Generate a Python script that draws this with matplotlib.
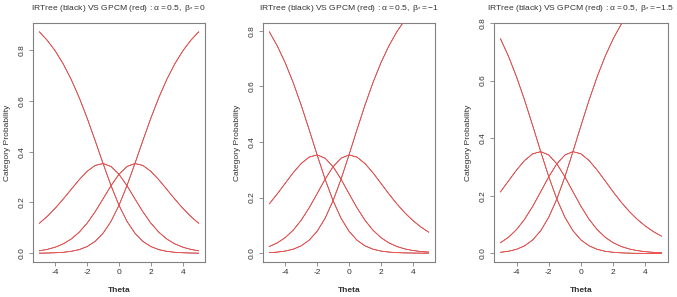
import matplotlib
matplotlib.use("Agg")
import matplotlib.pyplot as plt

plt.rcParams['font.family'] = ['Liberation Sans', 'DejaVu Sans']
plt.rcParams['mathtext.fontset'] = 'custom'
plt.rcParams['mathtext.rm'] = 'Liberation Sans'
plt.rcParams['mathtext.it'] = 'Liberation Sans'

theta = [-5.0, -4.5, -4.0, -3.5, -3.0, -2.5, -2.0, -1.5, -1.0, -0.5, 0.0,
         0.5, 1.0, 1.5, 2.0, 2.5, 3.0, 3.5, 4.0, 4.5, 5.0]

beta_labels = ["0", "-1", "-1.5"]

# Panel 1 (beta* = 0)
p1_cat0 = [0.8718, 0.8380, 0.7963, 0.7454, 0.6844, 0.6130, 0.5321, 0.4440, 0.3534, 0.2662, 0.1888,
           0.1258, 0.0789, 0.0468, 0.0265, 0.0144, 0.0076, 0.0039, 0.0020, 0.0010, 0.0005]
p1_cat1 = [0.1180, 0.1456, 0.1777, 0.2136, 0.2518, 0.2896, 0.3227, 0.3458, 0.3534, 0.3418, 0.3112,
           0.2662, 0.2143, 0.1634, 0.1187, 0.0830, 0.0562, 0.0371, 0.0241, 0.0154, 0.0097]
p1_cat2 = [0.0097, 0.0154, 0.0241, 0.0371, 0.0562, 0.0830, 0.1187, 0.1634, 0.2143, 0.2662, 0.3112,
           0.3418, 0.3534, 0.3458, 0.3227, 0.2896, 0.2518, 0.2136, 0.1777, 0.1456, 0.1180]
p1_cat3 = [0.0005, 0.0010, 0.0020, 0.0039, 0.0076, 0.0144, 0.0265, 0.0468, 0.0789, 0.1258, 0.1888,
           0.2662, 0.3534, 0.4440, 0.5321, 0.6130, 0.6844, 0.7454, 0.7963, 0.8380, 0.8718]

# Panel 2 (beta* = -1)
p2_cat0 = [0.7963, 0.7454, 0.6844, 0.6130, 0.5321, 0.4440, 0.3534, 0.2662, 0.1888, 0.1258, 0.0789,
           0.0468, 0.0265, 0.0144, 0.0076, 0.0039, 0.0020, 0.0010, 0.0005, 0.0002, 0.0001]
p2_cat1 = [0.1777, 0.2136, 0.2518, 0.2896, 0.3227, 0.3458, 0.3534, 0.3418, 0.3112, 0.2662, 0.2143,
           0.1634, 0.1187, 0.0830, 0.0562, 0.0371, 0.0241, 0.0154, 0.0097, 0.0061, 0.0038]
p2_cat2 = [0.0241, 0.0371, 0.0562, 0.0830, 0.1187, 0.1634, 0.2143, 0.2662, 0.3112, 0.3418, 0.3534,
           0.3458, 0.3227, 0.2896, 0.2518, 0.2136, 0.1777, 0.1456, 0.1180, 0.0948, 0.0756]
p2_cat3 = [0.0020, 0.0039, 0.0076, 0.0144, 0.0265, 0.0468, 0.0789, 0.1258, 0.1888, 0.2662, 0.3534,
           0.4440, 0.5321, 0.6130, 0.6844, 0.7454, 0.7963, 0.8380, 0.8718, 0.8990, 0.9205]

# Panel 3 (beta* = -1.5)
p3_cat0 = [0.7454, 0.6844, 0.6130, 0.5321, 0.4440, 0.3534, 0.2662, 0.1888, 0.1258, 0.0789, 0.0468,
           0.0265, 0.0144, 0.0076, 0.0039, 0.0020, 0.0010, 0.0005, 0.0002, 0.0001, 0.0001]
p3_cat1 = [0.2136, 0.2518, 0.2896, 0.3227, 0.3458, 0.3534, 0.3418, 0.3112, 0.2662, 0.2143, 0.1634,
           0.1187, 0.0830, 0.0562, 0.0371, 0.0241, 0.0154, 0.0097, 0.0061, 0.0038, 0.0023]
p3_cat2 = [0.0371, 0.0562, 0.0830, 0.1187, 0.1634, 0.2143, 0.2662, 0.3112, 0.3418, 0.3534, 0.3458,
           0.3227, 0.2896, 0.2518, 0.2136, 0.1777, 0.1456, 0.1180, 0.0948, 0.0756, 0.0599]
p3_cat3 = [0.0039, 0.0076, 0.0144, 0.0265, 0.0468, 0.0789, 0.1258, 0.1888, 0.2662, 0.3534, 0.4440,
           0.5321, 0.6130, 0.6844, 0.7454, 0.7963, 0.8380, 0.8718, 0.8990, 0.9205, 0.9377]

# IRTree curves (black) coincide with GPCM (red) at this resolution
gpcm = [[p1_cat0, p1_cat1, p1_cat2, p1_cat3],
        [p2_cat0, p2_cat1, p2_cat2, p2_cat3],
        [p3_cat0, p3_cat1, p3_cat2, p3_cat3]]
irtree = gpcm

xticks = [-4, -2, 0, 2, 4]
yticks = [0.0, 0.2, 0.4, 0.6, 0.8]

fig = plt.figure(figsize=(6.77, 2.97), dpi=100)
positions = [(33, 172), (263, 172), (494, 174)]
frame_col = '#808080'
text_col = '#333333'
for i, (left, w) in enumerate(positions):
    ax = fig.add_axes([left / 677, 35 / 297, w / 677, 239 / 297])
    for c in range(4):
        ax.plot(theta, irtree[i][c], color='#5a1010', lw=0.45, zorder=2)
        ax.plot(theta, gpcm[i][c], color='#ff5050', lw=0.6, zorder=3)
    ymax = max(gpcm[i][0]); ymin = min(gpcm[i][0])
    pad = 0.04 * (ymax - ymin)
    ax.set_xlim(-5.4, 5.4)
    ax.set_ylim(ymin - pad, ymax + pad)
    ax.set_xticks(xticks)
    ax.set_xticklabels([str(t) for t in xticks])
    ax.set_yticks(yticks)
    ax.set_yticklabels([f"{t:.1f}" for t in yticks], rotation=90, va='center')
    ax.tick_params(labelsize=6, length=3, width=0.6, color=frame_col, labelcolor=text_col, pad=2)
    for s in ax.spines.values():
        s.set_color(frame_col)
        s.set_linewidth(0.8)
    ax.set_xlabel('Theta', fontsize=6, fontweight='bold', labelpad=8, color=text_col)
    ax.set_ylabel('Category Probability', fontsize=6, labelpad=6, color=text_col)
    ax.set_title(r'IRTree (black) VS GPCM (red) : $\alpha = 0.5,\ \beta_{*} = ' + beta_labels[i] + '$',
                 fontsize=6.1, pad=9, color=text_col)

fig.savefig('out.png', dpi=100)
